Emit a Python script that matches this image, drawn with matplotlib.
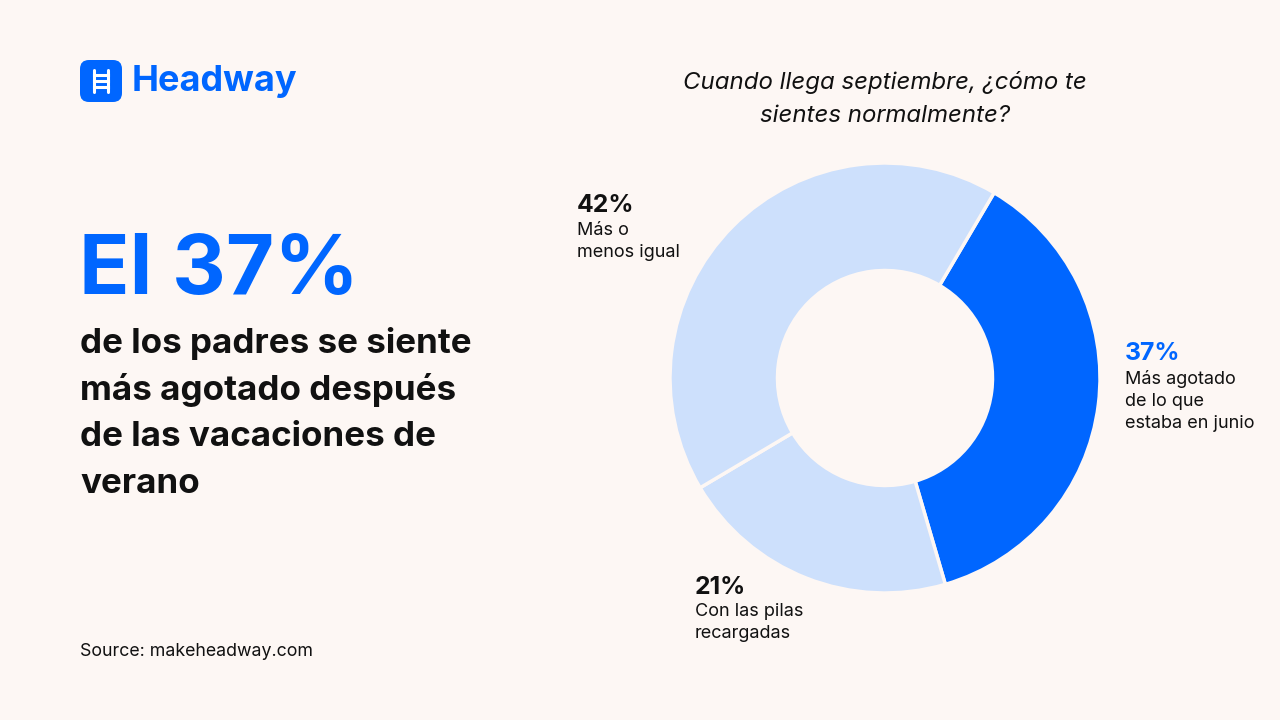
import matplotlib.pyplot as plt
from matplotlib.patches import FancyBboxPatch

bg = "#FDF7F4"
blue = "#0066FF"
light = "#CDE0FC"

# data
labels = ["Más agotado\nde lo que\nestaba en junio", "Con las pilas\nrecargadas", "Más o\nmenos igual"]
values = [37, 21, 42]
colors = [blue, light, light]
pct_colors = [blue, "#111111", "#111111"]

plt.rcParams['font.family'] = ['Inter', 'DejaVu Sans']

fig = plt.figure(figsize=(12.8, 7.2), dpi=100, facecolor=bg)

# overlay in pixel coords
bx = fig.add_axes([0, 0, 1, 1])
bx.set_xlim(0, 1280)
bx.set_ylim(720, 0)
bx.axis("off")
bx.set_facecolor(bg)

# donut
ax = fig.add_axes([670 / 1280, 127 / 720, 430 / 1280, 430 / 720])
ax.pie(values, colors=colors, startangle=59.5, counterclock=False,
       wedgeprops=dict(width=0.5, edgecolor=bg, linewidth=2.5, joinstyle="round"))
ax.set_xlim(-1, 1)
ax.set_ylim(-1, 1)
ax.set_aspect("equal")
ax.axis("off")

# logo
bx.add_patch(FancyBboxPatch((80, 60), 42, 42, boxstyle="round,pad=0,rounding_size=9",
                            fc=blue, ec="none"))
bx.plot([94, 94], [70, 92], color="white", lw=2.2, solid_capstyle="round")
bx.plot([108, 108], [70, 92], color="white", lw=2.2, solid_capstyle="round")
for yy in [75, 81, 87]:
    bx.plot([94, 108], [yy, yy], color="white", lw=2.2)
bx.text(132, 82, "Headway", color=blue, fontsize=26, fontweight="bold", va="center", ha="left")

# headline
bx.text(79, 272, "El 37%", color=blue, fontsize=60, fontweight="bold", va="center", ha="left")
for i, line in enumerate(["de los padres se siente", "más agotado después",
                          "de las vacaciones de", "verano"]):
    bx.text(80, 343 + i * 47, line, color="#111111", fontsize=25.2, fontweight="bold",
            va="center", ha="left")

bx.text(80, 652, "Source: makeheadway.com", color="#111111", fontsize=12.8, va="center", ha="left")

# question
bx.text(885, 99, "Cuando llega septiembre, ¿cómo te\nsientes normalmente?", color="#111111",
        fontsize=17.3, style="italic", ha="center", va="center", linespacing=1.65)

# slice labels
label_pos = [(1125, 354), (695, 587), (577, 206)]
for (x, y), v, lab, c in zip(label_pos, values, labels, pct_colors):
    bx.text(x, y, f"{v}%", color=c, fontsize=17.8, fontweight="bold", va="center", ha="left")
    bx.text(x, y + 16, lab, color="#111111", fontsize=13, va="top", ha="left", linespacing=1.4)

fig.savefig("out.png", dpi=100, facecolor=bg)
